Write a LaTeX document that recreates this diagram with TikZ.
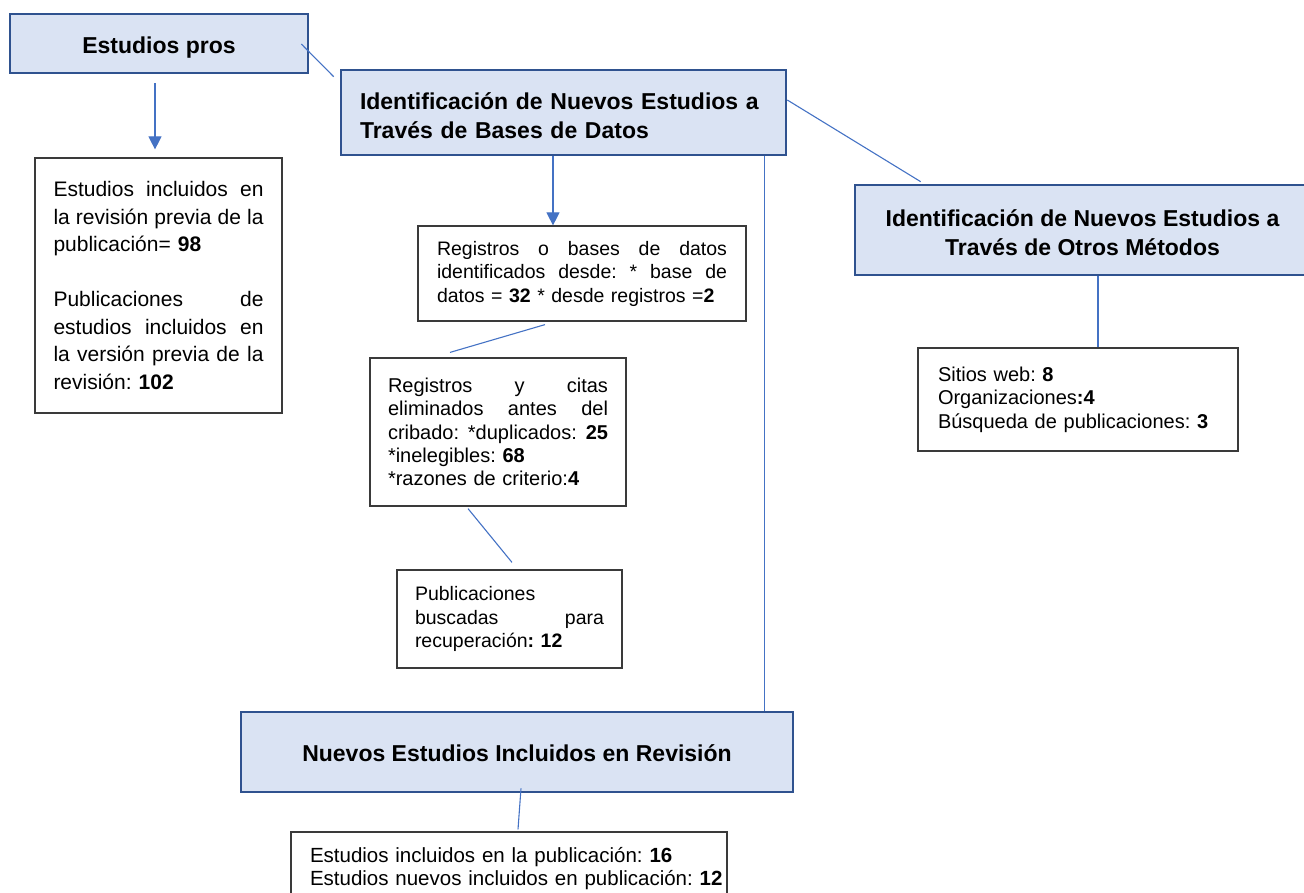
\documentclass[tikz,border=0pt]{standalone}
\usepackage{fontspec}
\setmainfont{Liberation Sans}
\usetikzlibrary{arrows.meta}
\definecolor{hfillc}{HTML}{DAE3F3}
\definecolor{hdrawc}{HTML}{2F528F}
\definecolor{lbluec}{HTML}{4472C4}
\definecolor{tboxc}{HTML}{3A3A3A}
\frenchspacing
\newcommand{\topgap}[2]{\raisebox{0pt}[\dimexpr\height+#1\relax][\depth]{#2}}
\begin{document}
\begin{tikzpicture}[x=1pt,y=-1pt,
  head/.style={draw=hdrawc,fill=hfillc,line width=2.6pt,inner sep=0pt,
    font=\fontsize{23}{29}\selectfont\bfseries},
  tbox/.style={draw=tboxc,line width=1.2pt,inner sep=0pt,align=left},
  conn/.style={draw=lbluec,line width=1.1pt},
  arr/.style={conn,-{Triangle[width=13pt,length=13pt]}}]
\useasboundingbox (0,0) rectangle (1304,892);

% header boxes
\node[head,minimum width=298pt,minimum height=59pt] (pros) at (159,43.5) {\topgap{8pt}{Estudios pros}};
\node[head,minimum width=445pt,minimum height=85pt,text width=407pt,align=left] (bd) at (563.5,112.5)
  {\topgap{6pt}{\mbox{Identificación de Nuevos Estudios a}}\\\mbox{Través de Bases de Datos}};
\node[head,minimum width=455pt,minimum height=90pt,align=center] (otros) at (1082.5,230)
  {\topgap{6pt}{Identificación de Nuevos Estudios a}\\Través de Otros Métodos};
\node[head,minimum width=552pt,minimum height=80pt] (nuevos) at (517,752)
  {\topgap{2pt}{Nuevos Estudios Incluidos en Revisión}};

% text boxes
\node[tbox,minimum width=247pt,minimum height=255pt,text width=210pt,
  font=\fontsize{21}{27.5}\selectfont] (prev) at (158.5,285.5)
  {Estudios\hfill incluidos\hfill en\\
   la\hfill revisión\hfill previa\hfill de\hfill la\\
   publicación= \textbf{98}\\[27.5pt]
   Publicaciones\hfill de\\
   estudios\hfill incluidos\hfill en\\
   la\hfill versión\hfill previa\hfill de\hfill la\\
   revisión: \textbf{102}};

\node[tbox,minimum width=328pt,minimum height=95pt,text width=290pt,
  font=\fontsize{19.5}{23.5}\selectfont] (reg) at (582,273.5)
  {Registros\hfill o\hfill bases\hfill de\hfill datos\\
   identificados\hfill desde:\hfill *\hfill base\hfill de\\
   datos = \textbf{32} * desde registros =\textbf{2}};

\node[tbox,minimum width=256pt,minimum height=148pt,text width=220pt,
  font=\fontsize{20}{23.3}\selectfont] (elim) at (498,432)
  {Registros\hfill y\hfill citas\\
   eliminados\hfill antes\hfill del\\
   cribado:\hfill *duplicados:\hfill \textbf{25}\\
   {}*inelegibles: \textbf{68}\\
   {}*razones de criterio:\textbf{4}};

\node[tbox,minimum width=225pt,minimum height=98pt,text width=189pt,
  font=\fontsize{19.5}{23.3}\selectfont] (pub) at (509.5,619)
  {Publicaciones\\
   buscadas\hfill para\\
   recuperación\textbf{: 12}};

\node[tbox,minimum width=320pt,minimum height=103pt,text width=280pt,
  font=\fontsize{20}{23.5}\selectfont] (sitios) at (1078,399.5)
  {Sitios web: \textbf{8}\\
   Organizaciones\textbf{:4}\\
   Búsqueda de publicaciones: \textbf{3}};

\node[tbox,minimum width=436pt,minimum height=73pt,text width=398pt,
  font=\fontsize{20.5}{23}\selectfont] (incl) at (509,868.5)
  {\mbox{Estudios incluidos en la publicación: \textbf{16}}\\
   \mbox{Estudios nuevos incluidos en publicación: \textbf{12}}};

% connectors
\draw[conn] ([xshift=-8pt,yshift=-0.5pt]pros.east) -- ([xshift=-6pt,yshift=-8pt]bd.north west);
\draw[arr] ([xshift=-4pt,yshift=-9pt]pros.south) -- ([xshift=-3.5pt,yshift=8pt]prev.north);
\draw[arr] ([xshift=-10.5pt]bd.south) -- ([xshift=-29pt]reg.north);
\draw[conn] ([yshift=12.5pt]bd.east) -- ([xshift=67pt,yshift=2pt]otros.north west);
\draw[conn] ([xshift=-23pt]bd.south east) -- ([xshift=-30pt]nuevos.north east);
\draw[conn] ([xshift=-37pt,yshift=-3pt]reg.south) -- ([xshift=-48pt,yshift=5pt]elim.north);
\draw[conn] ([xshift=-30pt,yshift=-2pt]elim.south) -- ([xshift=2.5pt,yshift=7pt]pub.north);
\draw[conn] ([xshift=15.5pt]otros.south) -- ([xshift=20pt]sitios.north);
\draw[conn] ([xshift=4pt,yshift=5pt]nuevos.south) -- ([xshift=9pt,yshift=2pt]incl.north);
\end{tikzpicture}
\end{document}
